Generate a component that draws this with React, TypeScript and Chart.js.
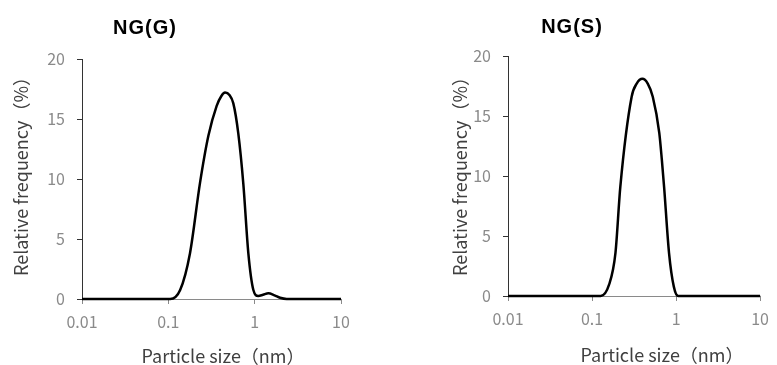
import React, { useEffect, useRef } from "react";
import { Chart, registerables } from "chart.js";

Chart.register(...registerables);

// ---- Data ----
const ngGSizes = [0.01, 0.1, 0.105, 0.137, 0.178, 0.233, 0.291, 0.363, 0.41, 0.454, 0.51, 0.566, 0.646, 0.739, 0.845, 0.966, 1.1, 1.25, 1.44, 1.7, 1.97, 2.35, 10];
const ngGFreq = [0, 0, 0, 0.75, 3.8, 9.7, 13.6, 16.1, 16.9, 17.2, 17.0, 16.3, 13.8, 9.6, 3.8, 0.75, 0.25, 0.35, 0.47, 0.3, 0.1, 0, 0];

const ngSSizes = [0.01, 0.1, 0.127, 0.159, 0.19, 0.217, 0.296, 0.34, 0.397, 0.46, 0.528, 0.631, 0.678, 0.72, 0.824, 0.94, 1.06, 10];
const ngSFreq = [0, 0, 0, 0.92, 3.6, 9.1, 16.6, 17.7, 18.1, 17.7, 16.6, 13.6, 11.3, 9.1, 3.6, 0.78, 0, 0];

const xTickValues = [0.01, 0.1, 1, 10];
const xTickLabels = ["0.01", "0.1", "1", "10"];
const yTickValues = [0, 5, 10, 15, 20];

const titles = ["NG(G)", "NG(S)"];
const yAxisTitle = "Relative frequency（%）";
const xAxisTitle = "Particle size（nm）";

const FONT = "'Noto Sans CJK JP', 'Noto Sans', sans-serif";
const TITLE_FONT = "'Liberation Sans', Arial, sans-serif";

type Layout = {
  w: number;
  h: number;
  left: number;
  right: number;
  top: number;
  bottom: number;
  titleX: number;
  titleY: number;
  yTitleX: number;
  yTitleY: number;
  xTitleX: number;
  xTitleY: number;
};

function Panel(props: { sizes: number[]; freq: number[]; title: string; lay: Layout }) {
  const ref = useRef<HTMLCanvasElement | null>(null);
  const { sizes, freq, title, lay } = props;

  useEffect(() => {
    if (!ref.current) return;
    const textPlugin = {
      id: "panelText",
      afterDraw(chart: any) {
        const ctx = chart.ctx;
        ctx.save();
        ctx.textAlign = "center";
        ctx.textBaseline = "middle";
        ctx.fillStyle = "#000";
        ctx.font = `bold 20px ${TITLE_FONT}`;
        (ctx as any).letterSpacing = "1px";
        ctx.fillText(title, lay.titleX, lay.titleY);
        (ctx as any).letterSpacing = "0px";
        ctx.fillStyle = "#404040";
        ctx.font = `18px ${FONT}`;
        ctx.fillText(xAxisTitle, lay.xTitleX, lay.xTitleY);
        ctx.translate(lay.yTitleX, lay.yTitleY);
        ctx.rotate(-Math.PI / 2);
        ctx.fillText(yAxisTitle, 0, 0);
        ctx.restore();
      },
    };

    const chart = new Chart(ref.current, {
      type: "line",
      data: {
        datasets: [
          {
            data: sizes.map((s, i) => ({ x: s, y: freq[i] })),
            borderColor: "#000",
            borderWidth: 2.5,
            pointRadius: 0,
            fill: false,
            cubicInterpolationMode: "monotone",
            clip: false as any,
          },
        ],
      },
      options: {
        responsive: false,
        animation: false,
        layout: {
          padding: {
            left: 0,
            top: lay.top,
            right: lay.w - lay.right,
            bottom: 0,
          },
        },
        plugins: {
          legend: { display: false },
          title: { display: false },
          tooltip: { enabled: false },
        },
        scales: {
          x: {
            type: "logarithmic",
            min: 0.01,
            max: 10,
            afterFit: (s: any) => {
              s.height = lay.h - lay.bottom;
            },
            afterBuildTicks: (s: any) => {
              s.ticks = xTickValues.map((v) => ({ value: v }));
            },
            ticks: {
              autoSkip: false,
              maxRotation: 0,
              color: "#8a8a8a",
              font: { family: FONT, size: 16 },
              padding: 8,
              callback: (_v: any, i: number) => xTickLabels[i],
            },
            grid: {
              display: true,
              drawOnChartArea: false,
              drawTicks: true,
              tickLength: 5,
              color: "#8a8a8a",
            },
            border: { display: true, color: "#8a8a8a", width: 1 },
          },
          y: {
            type: "linear",
            min: 0,
            max: 20,
            afterFit: (s: any) => {
              s.width = lay.left;
            },
            afterBuildTicks: (s: any) => {
              s.ticks = yTickValues.map((v) => ({ value: v }));
            },
            ticks: {
              color: "#8a8a8a",
              font: { family: FONT, size: 16 },
              padding: 12,
              callback: (v: any) => String(v),
            },
            grid: {
              display: true,
              drawOnChartArea: false,
              drawTicks: true,
              tickLength: 5,
              color: "#333",
            },
            border: { display: true, color: "#333", width: 1 },
          },
        },
      } as any,
      plugins: [textPlugin],
    });
    return () => chart.destroy();
  }, []);

  return (
    <canvas
      ref={ref}
      width={lay.w}
      height={lay.h}
      style={{ width: lay.w, height: lay.h, display: "block" }}
    />
  );
}

const leftLayout: Layout = {
  w: 388,
  h: 365,
  left: 82,
  right: 341,
  top: 59,
  bottom: 299,
  titleX: 145,
  titleY: 28,
  yTitleX: 21,
  yTitleY: 172,
  xTitleX: 223,
  xTitleY: 356,
};

const rightLayout: Layout = {
  w: 389,
  h: 365,
  left: 120,
  right: 379,
  top: 56,
  bottom: 296,
  titleX: 184,
  titleY: 27,
  yTitleX: 72,
  yTitleY: 172,
  xTitleX: 274,
  xTitleY: 355,
};

export default function App() {
  return (
    <div
      style={{
        position: "fixed",
        left: 0,
        top: 0,
        width: 777,
        height: 365,
        background: "#fff",
        display: "flex",
        flexDirection: "row",
      }}
    >
      <Panel sizes={ngGSizes} freq={ngGFreq} title={titles[0]} lay={leftLayout} />
      <Panel sizes={ngSSizes} freq={ngSFreq} title={titles[1]} lay={rightLayout} />
    </div>
  );
}
